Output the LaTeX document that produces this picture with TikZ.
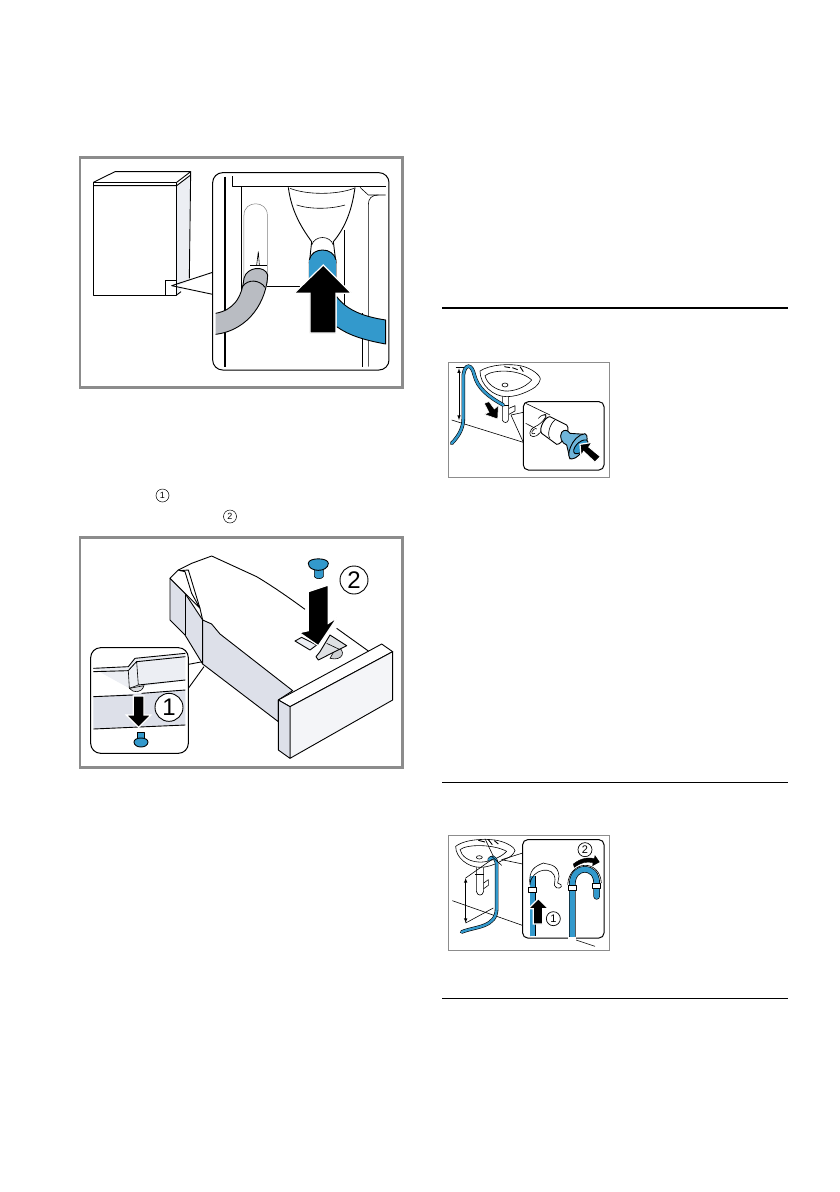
\documentclass[tikz,border=0pt]{standalone}
\usepackage{fontspec}
\setmainfont{Liberation Sans}
\usetikzlibrary{positioning,calc}
\definecolor{hoseblue}{HTML}{3399CC}
\definecolor{lightblue}{HTML}{6FB5DA}
\definecolor{framegray}{HTML}{8C8C8C}
\definecolor{hosegray}{HTML}{B9BCC2}
\definecolor{sidegray}{HTML}{DDE0E9}
\definecolor{palegray}{HTML}{ECEEF3}
\tikzset{
  bigframe/.style={draw=framegray,line width=2.6pt},
  smallframe/.style={draw=framegray,line width=1pt},
  ink/.style={draw=black,line width=0.9pt,line join=round},
  thin ink/.style={draw=black,line width=0.6pt,line join=round},
  inset/.style={draw=black,fill=white,line width=1pt,rounded corners=#1},
  inset/.default=8pt,
  blackarrow/.style={fill=black,draw=white,line width=1.2pt,line join=miter},
  bignum/.style={draw=black,circle,fill=white,line width=0.9pt,minimum size=28pt,inner sep=0pt,font=\fontsize{24}{24}\selectfont},
  midnum/.style={draw=black,circle,fill=white,line width=0.7pt,minimum size=14pt,inner sep=0pt,font=\fontsize{11}{11}\selectfont},
  textnum/.style={draw=black,circle,line width=0.5pt,minimum size=13pt,inner sep=0pt,font=\fontsize{9}{9}\selectfont},
}
\begin{document}
\begin{tikzpicture}[x=1pt,y=-1pt]
    \useasboundingbox[fill=white] (0,0) rectangle (840,1192);

    % rules of the right column
    \draw[line width=2pt] (442,308) -- (788,308);
    \draw[line width=1pt] (442,782) -- (788,782);
    \draw[line width=1pt] (442,998) -- (788,998);

    % numbers in the running text
    \node[textnum] (textOne) at (162.5,495.5) {1};
    \node[textnum] (textTwo) at (230,516.5) {2};

    % PANEL 1: machine and hose
    \begin{scope}[shift={(70,150)},scale=1/3]
    \draw[bigframe] (30,22) rectangle (997,712);
    \fill[palegray] (320,105) -- (360,75) -- (358,385) -- (320,435) -- cycle;
    \draw[ink] (70,97) -- (135,65) -- (362,65) -- (320,97);
    \draw[ink] (70,107) -- (320,107) -- (362,75);
    \draw[ink] (362,65) -- (358,385);
    \draw[ink] (70,97) rectangle (320,435);
    \draw[ink] (320,435) -- (333,425);
    \draw[ink] (286,435) -- (286,390) -- (320,390);
    % callout
    \draw[ink] (428,367) -- (305,407) -- (428,433);
    \fill[white] (428,375) -- (320,407) -- (428,425) -- cycle;
    % inset
    \draw[inset=10pt] (428,68) rectangle (957,660);
    \draw[draw=black,line width=1.2pt] (465,80) -- (465,650);
    \draw[thin ink] (487,78) -- (487,108) -- (855,108);
    \draw[thin ink] (515,108) -- (515,480);
    \draw[thin ink] (855,108) -- (947,108);
    \draw[thin ink] (870,112) -- (895,135) -- (947,135);
    \draw[draw=gray,line width=0.5pt] (522,480) -- (522,195) .. controls (522,150) and (592,150) .. (592,195) -- (592,400);
    \draw[thin ink] (822,240) -- (822,470);
    \draw[thin ink] (878,490) -- (878,650);
    \draw[thin ink] (895,650) -- (895,165) .. controls (895,145) and (905,135) .. (925,135);
    \draw[thin ink] (560,345) -- (565,305) -- (568,345);
    \draw[thin ink] (540,345) -- (592,345);
    % funnel
    \draw[ink] (655,112) .. controls (665,190) and (700,240) .. (725,275) -- (718,340);
    \draw[ink] (855,112) .. controls (845,190) and (820,240) .. (790,275) -- (798,340);
    \draw[thin ink] (660,115) .. controls (710,135) and (800,135) .. (852,115);
    \draw[thin ink] (680,165) .. controls (720,178) and (780,178) .. (825,165);
    \draw[thin ink] (725,285) .. controls (735,255) and (780,255) .. (790,285);
    % black line behind the arrow
    \draw[draw=black,line width=1.3pt] (590,410) -- (690,410);
    % gray hose
    \draw[ink,fill=hosegray] (437,490) .. controls (490,480) and (515,445) .. (522,385) .. controls (530,350) and (585,345) .. (593,375) .. controls (590,450) and (540,540) .. (437,553);
    \draw[ink] (517,410) .. controls (535,385) and (570,390) .. (585,412);
    % blue hose
    \draw[ink,fill=hoseblue] (718,390) -- (718,330) .. controls (725,290) and (790,290) .. (798,330) -- (798,400);
    \fill[hoseblue] (718,330) rectangle (798,420);
    \draw[ink,fill=hoseblue] (800,440) .. controls (830,480) and (880,500) .. (947,510) -- (947,582) .. controls (880,570) and (835,555) .. (800,530);
    % arrow
    \draw[blackarrow] (760,345) -- (845,430) -- (798,430) -- (798,549) -- (720,549) -- (720,430) -- (672,430) -- cycle;
    \end{scope}

    % PANEL 2: drawer
    \begin{scope}[shift={(70,480)},scale=1/3]
    \draw[bigframe] (30,172) rectangle (997,862);
    % rear end
    \draw[ink,fill=sidegray] (300,295) -- (345,340) -- (398,420) -- (398,552) -- (345,465) -- (300,420) -- cycle;
    \draw[ink] (345,340) -- (345,465);
    \draw[ink,fill=white] (300,295) -- (325,270) -- (345,275) -- (365,340) -- (390,385) -- (345,340) -- cycle;
    % side
    \draw[ink,fill=sidegray] (398,420) -- (425,432) -- (450,462) -- (668,632) -- (625,660) -- (625,725) -- (398,552) -- cycle;
    % top edge
    \draw[ink] (325,270) -- (365,250) -- (425,228) -- (560,290) .. controls (610,320) and (660,355) .. (705,388);
    \draw[ink] (330,272) -- (355,270) -- (390,385) -- (398,420);
    \draw[ink] (800,445) -- (895,513);
    % insert under the arrow
    \draw[ink,fill=palegray] (675,483) -- (695,472) -- (740,495) -- (720,510) -- cycle;
    \draw[thin ink,fill=hosegray!70] (800,500) .. controls (830,510) and (820,545) .. (780,535) -- cycle;
    \draw[ink,fill=hosegray!45] (750,515) -- (780,465) -- (830,497) -- (745,540) -- (738,530) -- cycle;
    \draw[thin ink] (770,490) -- (808,508);
    % front panel
    \draw[ink,fill=white] (625,660) -- (935,492) -- (968,515) -- (660,680) -- cycle;
    \draw[ink,fill=palegray!60] (660,680) -- (968,515) -- (968,660) -- (660,835) -- cycle;
    \draw[ink,fill=sidegray] (625,660) -- (660,680) -- (660,835) -- (625,810) -- cycle;
    % big arrow
    \draw[blackarrow] (715,335) -- (775,315) -- (775,430) -- (802,412) -- (745,497) -- (688,458) -- (715,452) -- cycle;
    % knob 2
    \draw[thin ink,fill=hoseblue] (733,262) -- (733,290) .. controls (738,298) and (755,298) .. (760,290) -- (760,262) -- cycle;
    \draw[ink,fill=hoseblue] (715,250) .. controls (715,232) and (775,232) .. (775,250) .. controls (775,278) and (715,278) .. (715,250) -- cycle;
    \node[bignum] (numTwo) at (852,300) {2};
    % inset
    \draw[ink] (345,555) -- (398,545);
    \draw[ink] (355,625) -- (402,560);
    \draw[inset=10pt] (62,503) rectangle (355,820);
    \fill[sidegray] (70,650) -- (346,630) -- (346,735) -- (70,746) -- cycle;
    \fill[palegray] (70,565) -- (175,560) -- (195,535) -- (346,520) -- (346,600) -- (178,625) -- cycle;
    \draw[ink] (70,565) -- (175,560) -- (195,535) -- (346,520);
    \draw[ink] (70,575) -- (175,572) -- (200,545) -- (346,530);
    \draw[thin ink,fill=palegray] (175,572) -- (200,545) -- (205,615) -- (178,625) -- cycle;
    \draw[ink] (205,615) -- (346,600);
    \draw[ink] (70,650) -- (190,645);
    \draw[ink] (215,640) -- (346,630);
    \draw[ink] (70,747) -- (346,735);
    \draw[thin ink,fill=hosegray!50] (178,625) .. controls (190,640) and (215,640) .. (222,617) -- cycle;
    \draw[blackarrow] (190,648) -- (222,648) -- (222,705) -- (243,705) -- (206,742) -- (169,705) -- (190,705) -- cycle;
    \draw[thin ink,fill=hoseblue] (202,758) rectangle (222,785);
    \draw[ink,fill=hoseblue] (192,786) .. controls (192,770) and (234,770) .. (234,786) .. controls (234,806) and (192,806) .. (192,786) -- cycle;
    \node[bignum] (numOne) at (297,682) {1};
    \end{scope}

    % PANEL 3: hose end in the siphon
    \begin{scope}[shift={(435,355)},scale=1/3]
    \draw[smallframe] (39,21) rectangle (522,366);
    % wall and dimension
    \draw[thin ink] (50,195) -- (265,262);
    \draw[thin ink,<->,>=latex] (72,40) -- (72,195);
    \draw[thin ink] (62,38) -- (90,38);
    % sink
    \draw[thin ink] (135,48) .. controls (165,28) and (225,25) .. (260,33) .. controls (290,40) and (315,60) .. (316,72) .. controls (310,95) and (295,100) .. (280,108) .. controls (255,120) and (235,125) .. (215,125) .. controls (175,125) and (135,90) .. (135,48) -- cycle;
    \draw[thin ink] (150,62) .. controls (175,42) and (255,42) .. (290,75) .. controls (270,100) and (230,110) .. (210,108) .. controls (180,105) and (155,85) .. (150,62) -- cycle;
    \draw[thin ink] (210,90) ellipse (9 and 6);
    \draw[ink] (208,35) -- (225,38);
    \draw[ink] (232,38) -- (248,44);
    \draw[ink] (255,35) -- (265,50);
    % siphon
    \draw[thin ink] (202,125) -- (202,195) .. controls (205,205) and (218,205) .. (220,195) -- (220,125);
    \draw[thin ink] (198,150) -- (222,150);
    \draw[thin ink] (222,160) -- (240,152) -- (240,168) -- (222,178);
    % hose
    \draw[draw=black,line width=3.6pt,line cap=round] (50,265) .. controls (75,240) and (85,215) .. (85,190) -- (85,60) .. controls (90,25) and (110,25) .. (118,60) .. controls (128,100) and (160,125) .. (205,150);
    \draw[draw=hoseblue,line width=2.4pt,line cap=round] (50,265) .. controls (75,240) and (85,215) .. (85,190) -- (85,60) .. controls (90,25) and (110,25) .. (118,60) .. controls (128,100) and (160,125) .. (205,150);
    % diagonal arrow
    \draw[blackarrow,line width=.5pt] (148,145) -- (162,140) -- (178,162) -- (190,152) -- (188,192) -- (148,178) -- (162,172) -- cycle;
    % callout
    \draw[thin ink] (228,180) -- (265,172);
    \draw[thin ink] (228,180) -- (265,262);
    % inset
    \draw[inset=5pt] (265,140) rectangle (507,345);
    \draw[thin ink] (272,145) -- (345,180);
    \draw[thin ink] (272,205) -- (305,222);
    \draw[thin ink] (325,180) .. controls (345,170) and (325,205) .. (300,215) .. controls (280,225) and (280,245) .. (295,245) .. controls (310,245) and (325,225) .. (325,205);
    \draw[thin ink] (310,190) .. controls (325,172) and (345,178) .. (325,200);
    \draw[thin ink] (298,222) .. controls (285,232) and (290,240) .. (300,235);
    % cylinder
    \draw[ink,fill=white] (345,185) -- (395,210) .. controls (410,225) and (380,270) .. (365,268) -- (320,235) .. controls (310,220) and (330,185) .. (345,185) -- cycle;
    \draw[thin ink] (360,195) .. controls (345,205) and (335,240) .. (345,250);
    % blue funnel
    \draw[ink,fill=lightblue] (380,232) .. controls (388,222) and (398,225) .. (405,235) -- (450,238) -- (405,312) -- (395,270) .. controls (380,265) and (372,245) .. (380,232) -- cycle;
    \draw[ink,fill=lightblue] (450,236) .. controls (470,245) and (440,310) .. (410,312) .. controls (388,312) and (410,240) .. (450,236) -- cycle;
    \draw[ink,fill=hoseblue] (455,255) .. controls (470,268) and (440,300) .. (420,296) .. controls (405,285) and (435,250) .. (455,255) -- cycle;
    % arrow
    \draw[blackarrow] (435,268) -- (472,262) -- (462,276) -- (497,305) -- (480,322) -- (446,290) -- (438,304) -- cycle;
    \end{scope}

    % PANEL 4: hose over the sink edge
    \begin{scope}[shift={(435,828)},scale=1/3]
    \draw[smallframe] (39,21) rectangle (522,366);
    % wall and dimension
    \draw[thin ink] (52,218) -- (262,292);
    \draw[thin ink] (420,335) -- (480,355);
    \draw[thin ink,<->,>=latex] (92,150) -- (92,285);
    \draw[thin ink] (92,150) -- (170,95);
    \draw[thin ink] (92,285) -- (175,240);
    % sink
    \draw[thin ink] (62,55) .. controls (95,30) and (165,32) .. (190,38) .. controls (220,45) and (240,60) .. (240,68) .. controls (230,90) and (215,90) .. (200,98) .. controls (175,112) and (155,118) .. (135,118) .. controls (100,118) and (62,90) .. (62,55) -- cycle;
    \draw[thin ink] (75,65) .. controls (95,48) and (175,48) .. (215,70) .. controls (195,92) and (150,105) .. (130,102) .. controls (100,100) and (80,85) .. (75,65) -- cycle;
    \draw[thin ink] (133,88) ellipse (9 and 5);
    \draw[ink] (130,37) -- (150,42);
    \draw[ink] (160,35) -- (172,50);
    \draw[ink] (178,38) -- (190,48);
    % siphon
    \draw[thin ink] (124,118) -- (124,190) .. controls (127,205) and (143,205) .. (146,190) -- (146,118);
    \draw[thin ink] (120,140) -- (148,140);
    \draw[thin ink] (146,165) -- (160,155) -- (160,172) -- (146,182);
    % hose
    \draw[draw=black,line width=3.6pt,line cap=round] (80,312) .. controls (120,295) and (185,300) .. (185,240) -- (185,105) .. controls (180,85) and (170,85) .. (162,95);
    \draw[draw=hoseblue,line width=2.4pt,line cap=round] (80,312) .. controls (120,295) and (185,300) .. (185,240) -- (185,105) .. controls (180,85) and (170,85) .. (162,95);
    \draw[thin ink] (150,32) -- (175,85);
    \draw[thin ink] (170,85) -- (200,112);
    % callout
    \draw[thin ink] (200,95) -- (263,75);
    \draw[thin ink] (200,95) -- (263,108);
    % inset
    \draw[inset=5pt] (263,35) rectangle (507,330);
    % left hook and hose
    \draw[draw=black,line width=6pt] (293,325) -- (293,145);
    \draw[draw=hoseblue,line width=4.6pt] (293,325) -- (293,145);
    \draw[thin ink,fill=white] (281,178) -- (305,178) -- (305,192) -- (281,192) -- cycle;
    \draw[thin ink] (285,170) .. controls (288,120) and (360,110) .. (360,155) -- (358,172) .. controls (365,188) and (385,178) .. (378,170) -- (368,165) -- (372,145) .. controls (370,105) and (335,110) .. (325,105) .. controls (300,115) and (280,125) .. (285,170) -- cycle;
    % arrow
    \draw[blackarrow] (310,212) -- (340,242) -- (323,242) -- (323,288) -- (295,288) -- (295,242) -- (280,242) -- cycle;
    \node[midnum] (stepOne) at (355,272) {1};
    % right hose
    \draw[draw=black,line width=6.6pt,line cap=round] (412,325) -- (412,165) .. controls (415,110) and (485,110) .. (485,165) -- (485,205);
    \draw[draw=hoseblue,line width=5.2pt,line cap=round] (412,325) -- (412,165) .. controls (415,110) and (485,110) .. (485,165) -- (485,205);
    \fill[white] (400,327) rectangle (424,345);
    \draw[thin ink,fill=white] (400,172) -- (424,172) -- (424,188) -- (400,188) -- cycle;
    \draw[thin ink,fill=white] (473,165) -- (497,165) -- (497,180) -- (473,180) -- cycle;
    \draw[thin ink] (398,170) .. controls (403,95) and (495,92) .. (499,165);
    \draw[fill=black] (415,108) .. controls (440,88) and (465,88) .. (478,92) -- (480,83) -- (493,102) -- (473,113) -- (474,104) .. controls (455,100) and (440,102) .. (418,118) -- cycle;
    \node[midnum] (stepTwo) at (450,65) {2};
    \end{scope}
\end{tikzpicture}
\end{document}
